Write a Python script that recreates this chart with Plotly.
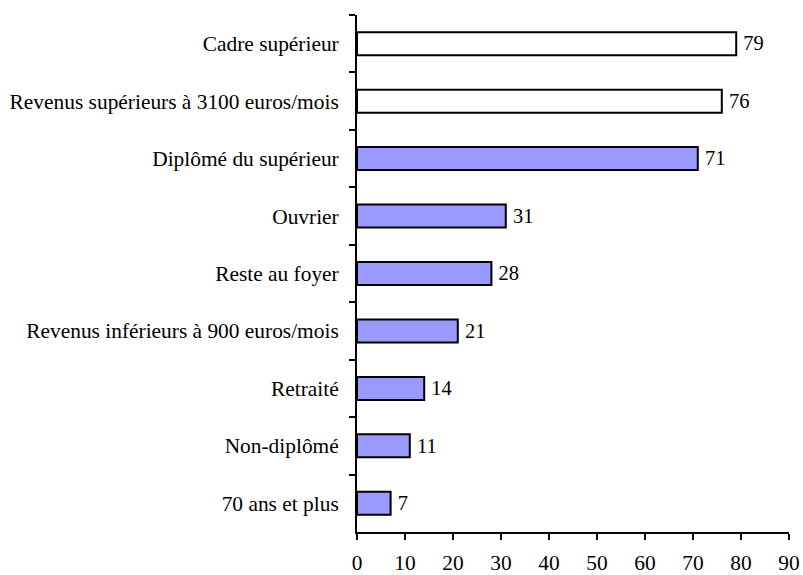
import plotly.graph_objects as go

categories = ["Cadre supérieur", "Revenus supérieurs à 3100 euros/mois", "Diplômé du supérieur",
              "Ouvrier", "Reste au foyer", "Revenus inférieurs à 900 euros/mois", "Retraité",
              "Non-diplômé", "70 ans et plus"]
values = [79, 76, 71, 31, 28, 21, 14, 11, 7]
fill_colors = ["#FFFFFF", "#FFFFFF", "#9999FF", "#9999FF", "#9999FF", "#9999FF", "#9999FF", "#9999FF", "#9999FF"]
x_ticks = [0, 10, 20, 30, 40, 50, 60, 70, 80, 90]

font = "Liberation Serif, Times New Roman, serif"
fs = 21.4

fig = go.Figure(go.Bar(
    y=categories, x=values, orientation="h",
    marker=dict(color=fill_colors, line=dict(color="black", width=2)),
    width=0.4,
    text=["\u2009" + str(v) for v in values], textposition="outside",
    textfont=dict(family=font, size=fs, color="black"),
    cliponaxis=False,
))

fig.update_layout(
    width=803, height=575,
    margin=dict(l=357, r=14, t=15, b=43, autoexpand=False),
    plot_bgcolor="white", paper_bgcolor="white",
    showlegend=False,
    font=dict(family=font, size=fs, color="black"),
    xaxis=dict(range=[0, 90], tickvals=x_ticks, showgrid=False, zeroline=False,
               showline=True, linecolor="black", linewidth=2, automargin=False,
               ticks="outside", ticklen=6, tickwidth=2, tickcolor="black",
               tickfont=dict(family=font, size=fs), ticklabelstandoff=4),
    yaxis=dict(categoryorder="array", categoryarray=categories, autorange="reversed",
               showgrid=False, showline=True, linecolor="black", linewidth=2, automargin=False,
               ticks="outside", tickson="boundaries", ticklen=6, tickwidth=2, tickcolor="black",
               tickfont=dict(family=font, size=fs), ticklabelstandoff=12),
)

fig.write_html("out.html", config={"displayModeBar": False},
               post_script="document.body.style.margin='0';")
